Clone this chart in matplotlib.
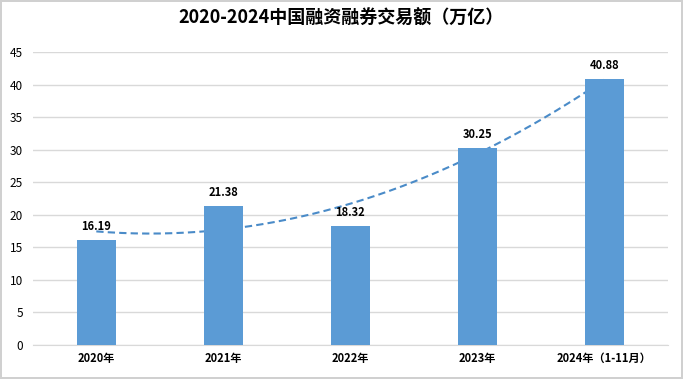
import numpy as np
import matplotlib
matplotlib.use('Agg')
from matplotlib import pyplot as plt

plt.rcParams['font.family'] = ['Noto Sans CJK SC', 'DejaVu Sans']

# data
years = ['2020年', '2021年', '2022年', '2023年', '2024年（1-11月）']
amounts = [16.19, 21.38, 18.32, 30.25, 40.88]
title = '2020-2024中国融资融券交易额（万亿）'

fig = plt.figure(figsize=(6.83, 3.79), dpi=100)
fig.patch.set_edgecolor('#D0D0D0')
fig.patch.set_linewidth(1.5)
ax = fig.add_axes([0.048, 0.0897, 0.930, 0.773])

x = np.arange(len(years))
ax.bar(x, amounts, width=0.31, color='#5B9BD5', zorder=3)

# polynomial (order 2) trendline, drawn under the bars like Excel does
coef = np.polyfit(x, amounts, 2)
xs = np.linspace(x[0], x[-1], 200)
ax.plot(xs, np.polyval(coef, xs), linestyle=(0, (3.5, 2)), color='#4A8BC8',
        linewidth=1.5, zorder=2)

for xi, v in zip(x, amounts):
    ax.annotate(f'{v:.2f}', (xi, v), xytext=(0, 5), textcoords='offset points',
                ha='center', va='bottom', fontsize=8, fontweight='bold',
                color='#000000', zorder=4)

ax.set_xlim(-0.5, len(years) - 0.5)
ax.set_ylim(0, 45)
ax.set_yticks(range(0, 46, 5))
ax.set_xticks(x)
ax.set_xticklabels(years, fontsize=8, fontweight='bold')
ax.tick_params(axis='y', labelsize=8.5, length=0, pad=7)
ax.tick_params(axis='x', length=0, pad=5)
ax.grid(axis='y', color='#D9D9D9', linewidth=1, zorder=0)
for s in ['top', 'right', 'left']:
    ax.spines[s].set_visible(False)
ax.spines['bottom'].set_color('#D9D9D9')

fig.text(0.5, 0.952, title, ha='center', va='center', fontsize=13,
         fontweight='bold')

fig.savefig('out.png', dpi=100, edgecolor=fig.get_edgecolor())
